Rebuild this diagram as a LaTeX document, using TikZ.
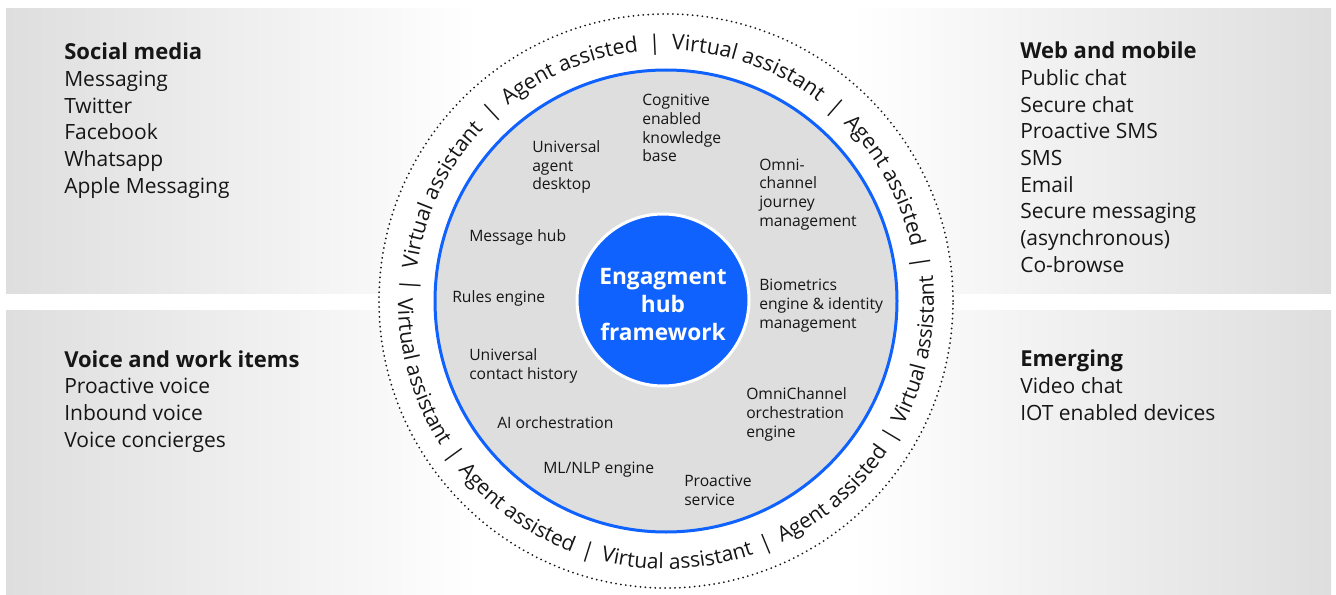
\documentclass[tikz,border=0pt]{standalone}
\usepackage{fontspec}
\setmainfont{Open Sans}
\usetikzlibrary{decorations.text}
\definecolor{hubblue}{HTML}{0F62FE}
\definecolor{hubink}{HTML}{161616}
\definecolor{panelgray}{HTML}{DEDEDE}
\definecolor{diskgray}{HTML}{DEDEDE}
\newcommand{\ringbar}{\hspace{8pt}\textbar\hspace{8pt}}
\newcommand{\ringbarb}{\hspace{7pt}\textbar\hspace{7pt}}
\newcommand{\ringfont}{\fontsize{16}{18}\selectfont}
\newcommand{\ringfontb}{\fontsize{15.75}{18}\selectfont}
\newcommand{\heading}[1]{{\fontsize{16.5}{20}\selectfont\bfseries #1}}

\begin{document}
\begin{tikzpicture}[x=0.75pt,y=0.75pt,
    channel/.style={anchor=base west, align=left, inner sep=0pt, text=hubink, font=\fontsize{15.75}{20}\selectfont},
    service/.style={anchor=base west, align=left, inner sep=0pt, text=hubink, font=\fontsize{11.75}{14}\selectfont},
    ringtext/.style={decorate, decoration={text along path, text align=center, text color=hubink}}]
      \useasboundingbox (0,0) rectangle (1336,594);
      \coordinate (hub) at (666,293);
      % channel panels
      \shade[left color=panelgray, right color=white] (6,301) rectangle (480,585);
      \shade[left color=panelgray, right color=white] (6,0) rectangle (480,284);
      \shade[left color=white, right color=panelgray] (850,301) rectangle (1331,585);
      \shade[left color=white, right color=panelgray] (850,0) rectangle (1331,284);
      % outer ring
      \fill[white] (hub) circle (287);
      \draw[hubink, line width=1.5pt, line cap=round, dash pattern=on 0pt off 3.7pt] (hub) circle (287);
      % service disk
      \fill[diskgray] (hub) circle (231);
      \draw[hubblue, line width=2.25pt] (hub) circle (231);
      % ring labels
      \path[ringtext, decoration={text={|\ringfont|{\ringbar}Virtual assistant{\ringbar}Agent assisted{\ringbar}Virtual assistant{\ringbar}Agent assisted{\ringbar}}}]
        (hub) ++(199:251) arc[start angle=199, end angle=-14, radius=251];
      \path[ringtext, decoration={text={|\ringfontb|Virtual assistant{\ringbarb}Agent assisted{\ringbarb}Virtual assistant{\ringbarb}Agent assisted{\ringbarb}Virtual assistant}}]
        (hub) ++(162.5:268) arc[start angle=162.5, end angle=382.5, radius=268];
      % hub
      \fill[hubblue] (663,294) circle (86);
      \draw[white, line width=2.25pt] (663,294) circle (86);
      \node[align=center, text=white, font=\fontsize{17}{21}\selectfont\bfseries] (title) at (663,289) {Engagment\\hub\\framework};
      % services (anchors sit on the last baseline)
      \node[service] (knowledge) at (642,432) {Cognitive\\enabled\\knowledge\\base};
      \node[service] (desktop) at (532,404) {Universal\\agent\\desktop};
      \node[service] (journey) at (759,368) {Omni-\\channel\\journey\\management};
      \node[service] (msghub) at (469,353) {Message hub};
      \node[service] (rules) at (452,292) {Rules engine};
      \node[service] (biometrics) at (759,266) {Biometrics\\engine \& identity\\management};
      \node[service] (history) at (469,215) {Universal\\contact history};
      \node[service] (omniorch) at (746,157) {OmniChannel\\orchestration\\engine};
      \node[service] (aiorch) at (497,166) {AI orchestration};
      \node[service] (mlnlp) at (543,121) {ML/NLP engine};
      \node[service] (proactive) at (684,89) {Proactive\\service};
      % channels
      \node[channel] (social) at (64,400.7) {\heading{Social media}\\Messaging\\Twitter\\Facebook\\Whatsapp\\Apple Messaging};
      \node[channel] (web) at (1020,321.7) {\heading{Web and mobile}\\Public chat\\Secure chat\\Proactive SMS\\SMS\\Email\\Secure messaging\\(asynchronous)\\Co-browse};
      \node[channel] (voice) at (64,147) {\heading{Voice and work items}\\Proactive voice\\Inbound voice\\Voice concierges};
      \node[channel] (emerging) at (1020,173.7) {\heading{Emerging}\\Video chat\\IOT enabled devices};
\end{tikzpicture}
\end{document}
